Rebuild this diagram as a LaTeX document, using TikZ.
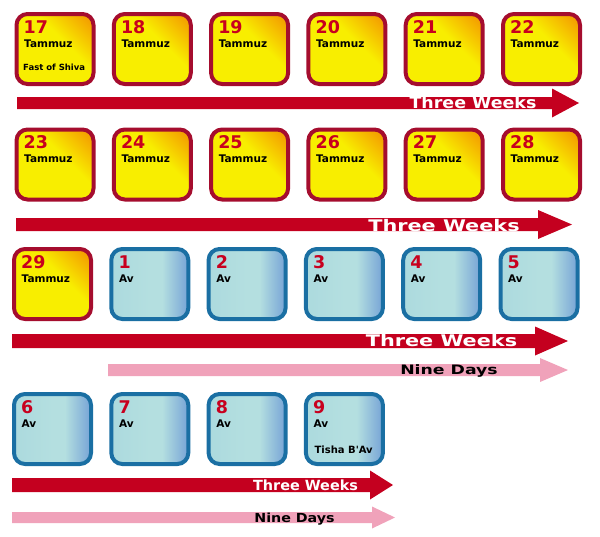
\documentclass[tikz,border=0pt]{standalone}
\usepackage{fontspec}
\setmainfont{DejaVu Sans}
\usepackage{graphicx}
\usepackage{tikz}
\usetikzlibrary{positioning}

\definecolor{tamborder}{HTML}{A50D2E}
\definecolor{tamyellow}{HTML}{F8EE00}
\definecolor{tamorange}{HTML}{F4A200}
\definecolor{avborder}{HTML}{1A6FA3}
\definecolor{avlight}{HTML}{ACDADE}
\definecolor{avpale}{HTML}{B4DFE0}
\definecolor{avblue}{HTML}{76A3D6}
\definecolor{numred}{HTML}{C8001E}
\definecolor{weekred}{HTML}{C4001F}
\definecolor{daypink}{HTML}{F0A2BA}

\pgfdeclareverticalshading{tamshade}{100bp}{color(0bp)=(tamyellow); color(25bp)=(tamyellow); color(58bp)=(tamyellow); color(80bp)=(tamorange); color(100bp)=(tamorange)}
\pgfdeclarehorizontalshading{avshade}{100bp}{color(0bp)=(avlight); color(25bp)=(avlight); color(50bp)=(avpale); color(58bp)=(avpale); color(75bp)=(avblue); color(100bp)=(avblue)}

\tikzset{
  daybox/.style={rounded corners=11pt, line width=4pt, minimum width=77pt, minimum height=70pt, inner sep=0pt, outer sep=0pt},
  tamday/.style={daybox, draw=tamborder, shading=tamshade, shading angle=-45},
  avday/.style={daybox, draw=avborder, shading=avshade},
  daynum/.style={anchor=base west, inner sep=0pt, text=numred, font=\bfseries\fontsize{17.5}{17.5}\selectfont},
  monthname/.style={anchor=base west, inner sep=0pt, font=\bfseries\fontsize{10.5}{10.5}\selectfont},
  daynote/.style={anchor=base west, inner sep=0pt, font=\bfseries\fontsize{8.5}{8.5}\selectfont},
  weeklabel/.style={anchor=base, inner sep=0pt, text=white, font=\bfseries\fontsize{16}{16}\selectfont},
  ninelabel/.style={anchor=base, inner sep=0pt, text=black, font=\bfseries\fontsize{13}{13}\selectfont}
}

\begin{document}
\begin{tikzpicture}[x=1pt, y=-1pt]
    \useasboundingbox (0,0) rectangle (600,536);

    % Tammuz days
    \foreach \d/\x/\y in {17/14.5/12, 18/111.8/12, 19/209.1/12, 20/306.4/12, 21/403.7/12, 22/501/12,
                          23/14.5/127.5, 24/111.8/127.5, 25/209.1/127.5, 26/306.4/127.5, 27/403.7/127.5, 28/501/127.5,
                          29/12/247} {
      \node[tamday] (t\d) at (\x+40.5,\y+37) {};
      \node[daynum] at ([xshift=7pt,yshift=-19pt]t\d.north west) {\d};
      \node[monthname] at ([xshift=7.5pt,yshift=-33pt]t\d.north west) {Tammuz};
    }

    % Av days
    \foreach \d/\x/\y in {1/109.3/247, 2/206.6/247, 3/303.9/247, 4/401.2/247, 5/498.5/247,
                          6/12/392, 7/109.3/392, 8/206.6/392, 9/303.9/392} {
      \node[avday] (av\d) at (\x+40.5,\y+37) {};
      \node[daynum] at ([xshift=7pt,yshift=-19pt]av\d.north west) {\d};
      \node[monthname] at ([xshift=7.5pt,yshift=-33pt]av\d.north west) {Av};
    }

    % Notes on the fast days
    \node[daynote] (fast) at ([xshift=6.5pt,yshift=-56pt]t17.north west) {Fast of Shiva};
    \node[daynote, font=\bfseries\fontsize{10}{10}\selectfont] (tisha) at ([xshift=8.5pt,yshift=-59pt]av9.north west) {Tisha B\textquotesingle Av};

    % Period arrows: start/tip/centre/head length/bar half/head half/colour
    \foreach \xa/\xb/\yc/\hl/\bh/\hh/\col in {17/579/103/27/6/14.5/weekred, 16/572/224.5/34/6.5/14.5/weekred,
                                             12/568/341/33/7/14.5/weekred, 108/568/370/28/6/12/daypink,
                                             12/393/485/23/7/14.5/weekred, 12/395/517.5/23/5.5/11/daypink} {
      \fill[\col] (\xa,\yc-\bh) -- (\xb-\hl,\yc-\bh) -- (\xb-\hl,\yc-\hh) -- (\xb,\yc)
        -- (\xb-\hl,\yc+\hh) -- (\xb-\hl,\yc+\bh) -- (\xa,\yc+\bh) -- cycle;
    }

    % Arrow labels
    \node[weeklabel] (tw1) at (473,108) {\scalebox{1.09}[1]{Three Weeks}};
    \node[weeklabel] (tw2) at (444,231) {\scalebox{1.3}[1]{Three Weeks}};
    \node[weeklabel] (tw3) at (441.5,346) {\scalebox{1.3}[1]{Three Weeks}};
    \node[ninelabel] (nd3) at (449,374) {\scalebox{1.33}[1]{Nine Days}};
    \node[weeklabel, font=\bfseries\fontsize{14}{14}\selectfont] (tw4) at (305.5,490) {\scalebox{1.03}[1]{Three Weeks}};
    \node[ninelabel, font=\bfseries\fontsize{12.5}{12.5}\selectfont] (nd4) at (294.5,522) {\scalebox{1.14}[1]{Nine Days}};
\end{tikzpicture}
\end{document}
